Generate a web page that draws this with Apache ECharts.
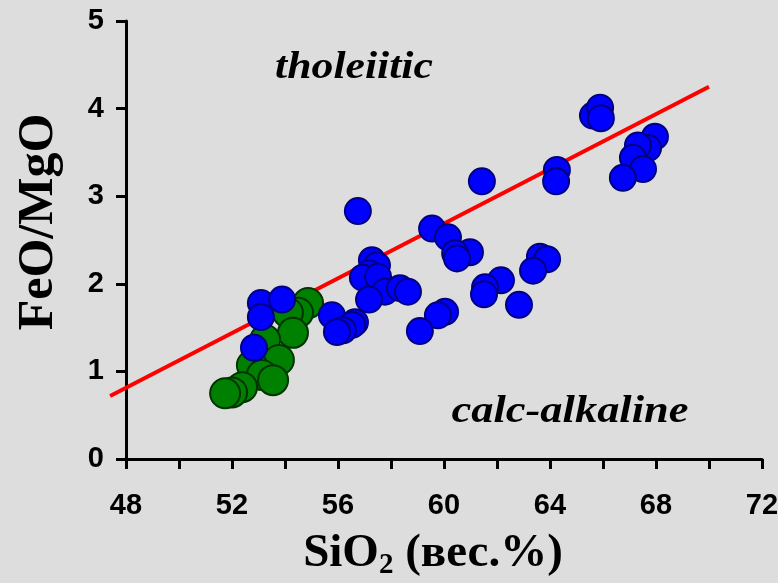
<!DOCTYPE html>
<html>
<head>
<meta charset="utf-8">
<script src="https://cdn.jsdelivr.net/npm/echarts@6/dist/echarts.min.js"></script>
<style>
html,body{margin:0;padding:0;background:#dddddd;}
#chart{width:778px;height:583px;}
</style>
</head>
<body>
<div id="chart"></div>
<script>
// SiO2 (wt.%) and FeO/MgO
var blueSiO2 = [65.62, 65.89, 65.92, 67.96, 67.70, 67.32, 67.13, 67.51, 66.75, 61.43, 64.26, 64.23,
  60.98, 63.62, 63.89, 63.36, 62.15, 61.55, 61.51, 62.83, 56.75, 59.55, 60.15, 60.42, 60.49,
  57.28, 57.47, 57.17, 56.94, 57.51, 57.77, 57.17, 58.34, 58.64, 60.04, 59.77, 59.09, 55.77,
  56.64, 56.53, 56.19, 55.96, 53.09, 53.09, 53.89, 52.83];
var blueFeOMgO = [3.92, 4.01, 3.89, 3.68, 3.55, 3.58, 3.44, 3.31, 3.21, 3.17, 3.30, 3.17,
  2.36, 2.31, 2.28, 2.15, 2.04, 1.96, 1.88, 1.76, 2.83, 2.63, 2.53, 2.35, 2.29,
  2.27, 2.21, 2.12, 2.07, 2.08, 1.91, 1.82, 1.95, 1.91, 1.68, 1.64, 1.46, 1.64,
  1.56, 1.53, 1.47, 1.45, 1.78, 1.62, 1.82, 1.27];
var greenSiO2 = [54.87, 54.49, 54.11, 54.30, 53.25, 53.77, 52.75, 53.13, 53.55, 52.38, 52.00, 51.74];
var greenFeOMgO = [1.78, 1.67, 1.67, 1.44, 1.36, 1.13, 1.07, 0.96, 0.90, 0.82, 0.76, 0.75];
// tholeiitic / calc-alkaline dividing line (Miyashiro): start and end points
var lineSiO2 = [47.4, 70.0];
var lineFeOMgO = [0.72, 4.25];
var xTicks = [48, 52, 56, 60, 64, 68, 72];
var yTicks = [0, 1, 2, 3, 4, 5];

function pairs(xs, ys) { return xs.map(function (x, i) { return [x, ys[i]]; }); }

var chart = echarts.init(document.getElementById('chart'), null, {renderer: 'canvas'});
var axisCommon = {
  axisLine: {show: true, lineStyle: {color: '#000', width: 3}},
  axisTick: {show: true, inside: false, length: 10, lineStyle: {color: '#000', width: 3}},
  splitLine: {show: false},
  axisLabel: {color: '#000', fontFamily: 'Liberation Sans', fontWeight: 'bold', fontSize: 29}
};
chart.setOption({
  backgroundColor: '#dddddd',
  animation: false,
  grid: {left: 126, right: 16, top: 21, bottom: 124, containLabel: false, outerBoundsMode: 'none'},
  xAxis: Object.assign({}, axisCommon, {
    type: 'value', min: xTicks[0], max: xTicks[xTicks.length - 1], interval: 4,
    minorTick: {show: true, splitNumber: 2, length: 10, lineStyle: {color: '#000', width: 3}},
    axisLabel: Object.assign({}, axisCommon.axisLabel, {margin: 32}),
    name: 'SiO{sub|2} (вес.%)', nameLocation: 'middle', nameGap: 69,
    nameTextStyle: {fontFamily: 'Liberation Serif', fontWeight: 'bold', fontSize: 47, color: '#000',
      padding: [0, 22, 0, 0],
      rich: {sub: {fontFamily: 'Liberation Serif', fontWeight: 'bold', fontSize: 29, color: '#000', verticalAlign: 'bottom', padding: [23, 0, 0, 0]}}}
  }),
  yAxis: Object.assign({}, axisCommon, {
    type: 'value', min: yTicks[0], max: yTicks[yTicks.length - 1], interval: 1,
    axisLabel: Object.assign({}, axisCommon.axisLabel, {margin: 22}),
    name: 'FeO/MgO', nameLocation: 'middle', nameGap: 62, nameRotate: 90,
    nameTextStyle: {fontFamily: 'Liberation Serif', fontWeight: 'bold', fontSize: 50, color: '#000',
      padding: [0, 0, 0, 36]}
  }),
  series: [
    {type: 'custom', clip: false, z: 1,
      data: [[lineSiO2[0], lineFeOMgO[0], lineSiO2[1], lineFeOMgO[1]]],
      encode: {x: [0, 2], y: [1, 3]},
      renderItem: function (params, api) {
        var p1 = api.coord([api.value(0), api.value(1)]);
        var p2 = api.coord([api.value(2), api.value(3)]);
        return {type: 'line', shape: {x1: p1[0], y1: p1[1], x2: p2[0], y2: p2[1]},
          style: {stroke: '#ff0000', lineWidth: 4}};
      }},
    {type: 'scatter', data: pairs(greenSiO2, greenFeOMgO), symbolSize: 30, z: 2,
      itemStyle: {color: '#008000', borderColor: '#003300', borderWidth: 2, opacity: 1}},
    {type: 'scatter', data: pairs(blueSiO2, blueFeOMgO), symbolSize: 26, z: 3,
      itemStyle: {color: '#0000ff', borderColor: '#000080', borderWidth: 2, opacity: 1}}
  ],
  graphic: [
    {type: 'text', x: 354, y: 68, z: 10, scaleX: 1.15,
      style: {text: 'tholeiitic', fill: '#000', font: 'italic bold 38px "Liberation Serif"', textAlign: 'center', textVerticalAlign: 'middle'}},
    {type: 'text', x: 570, y: 412, z: 10, scaleX: 1.17,
      style: {text: 'calc-alkaline', fill: '#000', font: 'italic bold 38px "Liberation Serif"', textAlign: 'center', textVerticalAlign: 'middle'}}
  ]
});
</script>
</body>
</html>
